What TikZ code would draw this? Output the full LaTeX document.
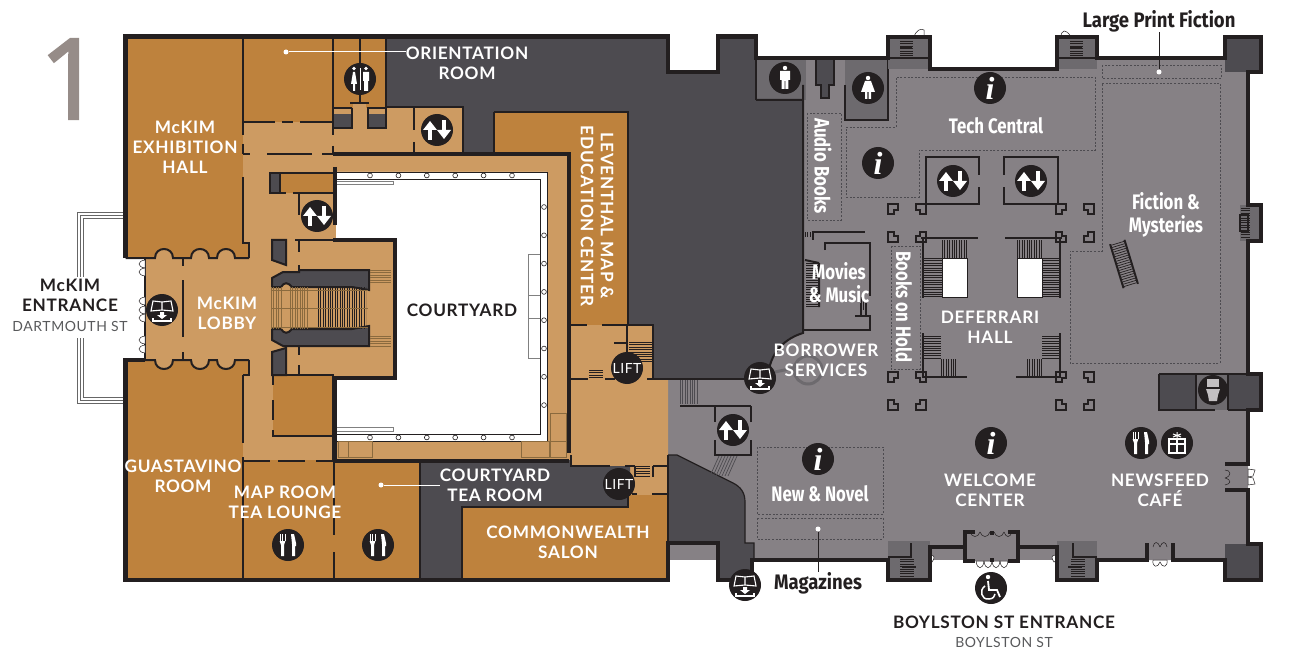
\documentclass[tikz,border=0pt]{standalone}
\usepackage{fontspec}
\setmainfont{Lato}
\newfontfamily\roomfont[LetterSpace=4]{Lato}
\newfontfamily\shelffont[FakeStretch=0.8]{Fira Sans}
\newfontfamily\signfont[FakeStretch=0.88]{Fira Sans}
\newfontfamily\numfont[FakeBold=2]{Open Sans}
\newfontfamily\infofont{Liberation Serif}
\definecolor{wallc}{HTML}{231F20}
\definecolor{brownc}{HTML}{BE823D}
\definecolor{tanc}{HTML}{CD9B62}
\definecolor{darkc}{HTML}{4D4B50}
\definecolor{midc}{HTML}{6D6A6E}
\definecolor{floorc}{HTML}{868185}
\definecolor{numc}{HTML}{968C88}
\definecolor{streetc}{HTML}{58595B}
\definecolor{stepc}{HTML}{8A6A3E}
\tikzset{
  outer/.style={draw=wallc,line width=4.6pt,miter limit=4},
  inner/.style={draw=wallc,line width=2pt},
  fine/.style={draw=wallc,line width=1.2pt},
  zone/.style={draw=darkc,line width=0.6pt,dash pattern=on 2pt off 1.6pt},
  hatch/.style={draw=wallc,dash pattern=on 0.7pt off 1.7pt},
  ghost/.style={draw=black!50,line width=0.7pt},
  door/.style={fill=white,draw=wallc,line width=0.5pt},
  room/.style={text=white,font=\roomfont\fontsize{17.2}{20}\selectfont\bfseries,align=center,inner sep=0pt},
  roomdark/.style={room,text=wallc},
  shelf/.style={text=white,font=\shelffont\fontsize{21}{23}\selectfont\bfseries,align=center,inner sep=0pt},
  shelfdark/.style={shelf,text=wallc,font=\signfont\fontsize{21}{23}\selectfont\bfseries},
  street/.style={text=streetc,font=\roomfont\fontsize{14}{16}\selectfont,inner sep=0pt},
  leader/.style={draw=white,line width=1pt},
  disc/.style={circle,fill=wallc,minimum size=32pt,inner sep=0pt},
  dot/.style={circle,fill=#1,minimum size=5pt,inner sep=0pt},
  pics/updown/.style={code={
    \fill[wallc] (0,0) circle (16);
    \draw[white,line width=3.6pt] (-7,10)--(-7,-3) (7,-10)--(7,3);
    \fill[white] (-14,0)--(-7,-9)--(0,0)--cycle (14,0)--(7,9)--(0,0)--cycle;
  }},
  pics/info/.style={code={
    \node[disc,text=white,font=\infofont\fontsize{32}{32}\selectfont\bfseries\itshape] (#1) at (0,0) {i};
  }},
  pics/fork/.style={code={
    \fill[wallc] (0,0) circle (16);
    \draw[white,line width=0.9pt] (-8,-11)--(-8,-4) (-5.5,-11)--(-5.5,-4) (-3,-11)--(-3,-4);
    \fill[white] (-8.4,-4)--(-2.6,-4)--(-4,0)--(-4,11)--(-7,11)--(-7,0)--cycle;
    \fill[white] (3,-11)--(6,-11)--(8,-2)--(8,1)--(7,1)--(7,11)--(4,11)--(4,-1)--cycle;
  }},
  pics/book/.style={code={
    \fill[wallc] (0,0) circle (16);
    \draw[white,line width=1.1pt,fill=wallc] (0,-8)--(-9,-9)--(-11,1)--(0,0)--(11,1)--(9,-9)--cycle (0,-8)--(0,0);
    \fill[white] (-2,2)--(2,2)--(2,5)--(5,5)--(0,9)--(-5,5)--(-2,5)--cycle;
    \draw[white,line width=1.6pt] (-9,8)--(-9,11)--(9,11)--(9,8);
  }},
  pics/men/.style={code={
    \fill[wallc] (0,0) circle (16);
    \fill[white] (0,-10) circle (2.2);
    \fill[white] (-5,-7)--(5,-7)--(5,2)--(3.4,2)--(3.4,11)--(0.4,11)--(0.4,3)--(-0.4,3)--(-0.4,11)--(-3.4,11)--(-3.4,2)--(-5,2)--cycle;
  }},
  pics/women/.style={code={
    \fill[wallc] (0,0) circle (16);
    \fill[white] (0,-10) circle (2.2);
    \fill[white] (-3,-7)--(3,-7)--(7,4)--(3,4)--(3,11)--(0.6,11)--(0.6,4)--(-0.6,4)--(-0.6,11)--(-3,11)--(-3,4)--(-7,4)--cycle;
  }},
  pics/toilet/.style={code={
    \fill[wallc] (0,0) circle (15);
    \fill[floorc!50!white] (-6,-11)--(6,-11)--(6,-3)--(-6,-3)--cycle;
    \fill[floorc!50!white] (-7,-1)--(7,-1)--(5,5)--(4,11)--(-4,11)--(-5,5)--cycle;
  }},
  pics/gift/.style={code={
    \fill[wallc] (0,0) circle (16);
    \draw[white,line width=1.2pt] (-8,-4) rectangle (8,10) (-8,1)--(8,1) (0,-4)--(0,10);
    \draw[white,line width=1pt] (0,-5)--(0,-11) (-4,-9)--(4,-6) (4,-9)--(-4,-6);
  }},
  pics/chair/.style={code={
    \fill[wallc] (0,0) circle (16);
    \fill[white] (-3,-11) circle (2.2);
    \draw[white,line width=1.8pt] (-3,-7)--(-2,2)--(6,2)--(9,9);
    \draw[white,line width=1.5pt] (-6,-2) .. controls (-12,2) and (-10,12) .. (-2,11) .. controls (2,11) and (4,8) .. (4,6);
  }}
}
\begin{document}
\begin{tikzpicture}[x=1pt,y=-1pt]
\useasboundingbox (0,0) rectangle (1289,660);

% floor
\fill[floorc] (668,379)--(756,58)--(888,58)--(888,37)--(930,37)--(930,69)--(1057,69)--(1057,37)--(1097,37)--(1097,58)--(1261,58)--(1261,72)--(1248,72)--(1248,544)--(1225,560)--(1097,560)--(1057,547)--(1018,547)--(1018,561)--(965,561)--(965,547)--(930,547)--(888,560)--(745,560)--(668,543)--cycle;
\fill[floorc] (1225,464) rectangle (1248,490);
\fill[floorc] (1147,542) rectangle (1173,560);
\fill[floorc] (668,379) rectangle (900,560);
\fill[floorc] (900,69) rectangle (1248,560);

% west wing rooms
\fill[brownc] (125,36) rectangle (386,122);
\fill[brownc] (125,36) rectangle (243,258);
\fill[brownc] (125,360) rectangle (243,580);
\fill[brownc] (243,460) rectangle (420,580);
\fill[tanc] (243,122) rectangle (336,460);
\fill[tanc] (333,108) rectangle (463,154);
\fill[tanc] (353,103) rectangle (366,125);
\fill[brownc] (243,243) rectangle (249,258);
\fill[brownc] (243,360) rectangle (249,375);
\fill[tanc] (145,258)--(155,258) .. controls +(0,-12) and +(0,-12) .. (173,258)--(191,258) .. controls +(0,-12) and +(0,-12) .. (209,258)--(217,258) .. controls +(0,-12) and +(0,-12) .. (235,258)--(250,258)--(250,360)--(235,360) .. controls +(0,12) and +(0,12) .. (217,360)--(209,360) .. controls +(0,12) and +(0,12) .. (191,360)--(173,360) .. controls +(0,12) and +(0,12) .. (155,360)--(145,360)--cycle;
\fill[brownc] (273,376) rectangle (333,436);
\fill[brownc] (280,173) rectangle (333,193);
\fill[darkc] (270,173) rectangle (280,193);

% courtyard and its ring
\fill[tanc] (333,154) rectangle (571,460);
\fill[white] (336,172)--(547,172)--(547,441)--(336,441)--(336,378)--(395,378)--(395,240)--(336,240)--cycle;

% dark rooms
\fill[darkc] (386,38)--(668,38)--(668,72)--(718,72)--(718,38)--(756,38)--(756,100)--(803,100)--(803,333) .. controls (780,340) and (768,358) .. (768,380)--(653,379)--(653,325)--(628,325)--(628,112)--(494,112)--(494,154)--(463,154)--(463,107)--(386,107)--cycle;
\fill[brownc] (494,112)--(628,112)--(628,325)--(571,325)--(571,154)--(494,154)--cycle;
\fill[tanc] (571,325)--(653,325)--(653,379)--(668,379)--(668,495)--(630,495)--(630,466)--(571,466)--cycle;
\fill[darkc] (420,460)--(571,460)--(571,466)--(630,466)--(630,507)--(462,507)--(462,580)--(420,580)--cycle;
\fill[brownc] (462,507)--(628,507)--(628,495)--(668,495)--(668,580)--(462,580)--cycle;
\fill[darkc] (668,455)--(677,455)--(733,483) .. controls (741,487) and (745,493) .. (745,502)--(745,543)--(754,543)--(754,560)--(752,580)--(718,580)--(718,543)--(668,543)--cycle;
\fill[midc] (756,58) rectangle (806,100);
\fill[midc] (845,58) rectangle (888,120);
\fill[floorc] (806,85) rectangle (845,100);
\fill[darkc] (816,60)--(834,60)--(834,85)--(829,85)--(829,98)--(821,98)--(821,85)--(816,85)--cycle;

% small dark boxes
\fill[darkc] (334,114) rectangle (352,128);
\fill[darkc] (368,114) rectangle (386,128);
\fill[darkc] (272,240)--(286,240)--(286,265)--(272,260)--cycle;
\fill[darkc] (272,352)--(286,348)--(286,375)--(272,375)--cycle;
\draw[inner,fill=darkc] (272,278)--(283,272)--(299,272)--(299,270)--(369,270)--(369,290)--(352,287)--(292,287) .. controls (288,282) and (284,282) .. (281,287)--(272,287)--cycle;
\draw[inner,fill=darkc] (272,340)--(283,346)--(299,346)--(299,346)--(369,346)--(369,326)--(352,329)--(292,329) .. controls (288,334) and (284,334) .. (281,329)--(272,329)--cycle;

% lobby stairs
\draw[hatch,draw=stepc,line width=42pt] (271,308)--(281,308);
\draw[hatch,draw=stepc,line width=42pt] (290,308)--(307,308);
\draw[hatch,line width=42pt] (318,308)--(366,308);
\draw[stepc,line width=0.8pt] (271,290)--(368,290) (271,308)--(368,308) (271,327)--(368,327);
\draw[hatch,draw=stepc,line width=21pt] (380,270)--(380,283);
\draw[hatch,draw=stepc,line width=21pt] (380,336)--(380,346);

% colonnade
\draw[wallc,line width=0.8pt] (336,172)--(547,172)--(547,441)--(336,441) (395,179)--(540,179)--(540,434)--(395,434) (336,179)--(395,179) (336,434)--(395,434);
\foreach \x in {370,398.4,...,530} {
  \draw[wallc,line width=0.6pt,fill=white] (\x,175.5) circle (2.4);
  \draw[wallc,line width=0.6pt,fill=white] (\x,437.5) circle (2.4);
}
\foreach \y in {207,235.3,...,410} {
  \draw[wallc,line width=0.6pt,fill=white] (544,\y) circle (2.4);
}
\draw[ghost] (336,181)--(393,181)--(393,184)--(336,184);
\draw[ghost] (336,431)--(393,431)--(393,427)--(336,427);
\draw[ghost] (540,254)--(528,254)--(528,358)--(540,358) (528,295)--(540,295) (528,318)--(540,318);
\draw[stepc,line width=0.8pt] (550,413) rectangle (566,441) (521,441) rectangle (549,457) (550,441) rectangle (566,457) (338,441) rectangle (372,457) (348,441)--(348,457);

% inner walls, west wing
\draw[inner] (243,36)--(243,122) (333,36)--(333,135) (333,146)--(333,154) (360,36)--(360,93);
\draw[inner] (243,122)--(275,122) (282,122)--(293,122) (300,122)--(333,122);
\draw[inner] (350,103)--(369,103) (360,93)--(360,103);
\draw[inner] (334,128)--(352,128)--(352,108) (334,108)--(352,108) (386,36)--(386,128)--(368,128)--(368,108)--(386,108);
\draw[inner] (386,107)--(463,107)--(463,154) (414,108)--(414,130) (414,142)--(414,154);
\draw[inner] (243,122)--(243,135) (243,144)--(243,154) (243,177)--(243,243)--(249,243)--(249,258) (243,375)--(249,375)--(249,360) (243,375)--(243,443) (243,457)--(243,580);
\draw[inner] (243,154)--(250,154) (267,154)--(312,154) (322,154)--(333,154);
\draw[inner] (270,173) rectangle (280,193) (280,173)--(333,173) (280,193)--(286,193) (293,193)--(333,193) (299,193)--(299,215);
\draw[inner] (272,240)--(286,240)--(286,265)--(272,260)--cycle (272,352)--(286,348)--(286,375)--(272,375)--cycle;
\draw[inner] (295,240)--(335,240) (299,240)--(299,252) (299,265)--(299,272) (299,345)--(299,355) (299,365)--(299,375);
\draw[inner] (273,375)--(333,375)--(333,460) (273,376)--(273,385) (273,400)--(273,420) (273,430)--(273,436)--(333,436);
\draw[inner] (243,461)--(270,461) (278,461)--(305,461) (316,461)--(335,461) (334,461)--(334,535) (334,552)--(334,580);
\draw[inner] (145,258)--(145,360);
\draw[inner] (125.5,258)--(155,258) .. controls +(0,-12) and +(0,-12) .. (173,258)--(191,258) .. controls +(0,-12) and +(0,-12) .. (209,258)--(217,258) .. controls +(0,-12) and +(0,-12) .. (235,258)--(249,258);
\draw[inner] (125.5,360)--(155,360) .. controls +(0,12) and +(0,12) .. (173,360)--(191,360) .. controls +(0,12) and +(0,12) .. (209,360)--(217,360) .. controls +(0,12) and +(0,12) .. (235,360)--(249,360);
\draw[inner] (183,258)--(183,266) (183,280)--(183,337) (183,352)--(183,360);
\draw[inner] (420,460)--(420,580);

% lift and stair area, east of courtyard
\draw[outer] (333,154)--(569,154)--(569,453) (335,167)--(335,225) (333,240)--(395,240)--(395,378)--(335,378)--(335,461)--(569,461);
\draw[inner] (494,112)--(628,112)--(628,325) (494,112)--(494,154);
\draw[inner] (571,325)--(587,325) (602,325)--(653,325)--(653,379) (627,325)--(627,355) (614,343)--(627,343);
\draw[inner] (571,379)--(588,379) (605,379)--(615,379) (647,379)--(768,379);
\draw[inner] (571,455)--(571,466)--(610,466) (625,466)--(635,466) (653,466)--(668,466) (653,466)--(653,477) (635,466)--(635,477) (632,494)--(637,494) (652,494)--(668,494);
\draw[inner] (462,580)--(462,507)--(628,507)--(628,494);
\draw[hatch,line width=23pt] (640,342)--(640,362);
\draw[hatch,line width=14pt] (596,370)--(596,379);
\draw[hatch,line width=14pt] (643,466)--(643,477);
\draw[inner] (668,455)--(668,543);
\draw[fine] (668,455)--(677,455)--(733,483) .. controls (741,487) and (745,493) .. (745,502)--(745,543)--(754,543)--(754,560);

% stairs and lift box, gray side
\draw[hatch,draw=darkc,line width=24pt] (680,392)--(698,392);
\draw[inner] (680,406)--(751,406) (715,406)--(715,422) (715,440)--(715,455)--(751,455)--(751,440) (751,422)--(751,406);
\foreach \i in {0,3,...,18} {
  \draw[darkc,line width=0.7pt] (719+\i,456)--(710+\i,476);
}

% north side, gray
\draw[inner] (756,100)--(803,100) (803,85)--(803,333) .. controls (780,340) and (768,358) .. (768,380);
\draw[inner] (756,58)--(756,100) (845,85)--(845,120)--(888,120)--(888,58);
\draw[inner] (816,60)--(816,85)--(821,85)--(821,98)--(829,98)--(829,85)--(834,85)--(834,60);

% movies room
\draw[inner] (813,240)--(813,232)--(865,232) (825,250)--(825,243)--(870,243)--(870,296) (855,316)--(870,316)--(870,330)--(803,330);
\draw[hatch,line width=5pt] (805,235)--(813,235);
\draw[hatch,line width=13pt] (812,263)--(812,307);
\draw[inner] (819,263)--(819,307) (805,260)--(819,263);
\draw[hatch,draw=wallc,line width=13pt,dash pattern=on 0.7pt off 1.7pt] (861,303)--(865,303);
\draw[fine] (861,303)--(861,316) (866,303)--(866,316);
\draw[midc,line width=3pt] (808,370) circle (14) (775,372)--(794,368);

% elevator boxes
\draw[inner] (979,175)--(979,157)--(926,157)--(926,204)--(979,204)--(979,187);
\draw[inner] (1004,175)--(1004,157)--(1058,157)--(1058,204)--(1004,204)--(1004,187);

% columns
\foreach \cx in {907,1075} {
  \foreach \cy in {223,391} {
    \foreach \sx in {1,-1} {
      \foreach \sy in {1,-1} {
        \draw[inner,shift={(\cx-14*\sx,\cy-14*\sy)},xscale=\sx,yscale=\sy] (-5,-5)--(5,-5)--(5,1)--(1,1)--(1,5)--(-5,5)--cycle;
      }
    }
  }
}

% Deferrari stairs
\draw[inner] (921,238)--(978,238) (1005,238)--(1062,238) (923,238)--(923,298) (1060,238)--(1060,298);
\draw[inner] (923,333)--(923,377)--(967,377) (1016,377)--(1060,377)--(1060,333);
\draw[wallc,line width=0.8pt,fill=white] (942,258) rectangle (967,297);
\draw[wallc,line width=0.8pt,fill=white] (1017,258) rectangle (1042,297);
\draw[hatch,line width=19pt] (932,258)--(932,297);
\draw[hatch,line width=19pt] (1051,258)--(1051,297);
\draw[hatch,line width=18pt] (942,249)--(967,249);
\draw[hatch,line width=18pt] (1017,249)--(1042,249);
\draw[hatch,line width=18pt] (932,336)--(932,358);
\draw[hatch,line width=18pt] (1051,336)--(1051,358);
\draw[hatch,line width=19pt] (941,368)--(956,368);
\draw[hatch,line width=19pt] (1027,368)--(1043,368);

% dashed zones
\draw[zone] (807,113) rectangle (841,220);
\draw[zone] (846,127)--(896,127)--(896,77)--(1095,77)--(1095,150)--(919,150)--(919,197)--(846,197)--cycle;
\draw[zone] (1102,65) rectangle (1221,78);
\draw[zone] (1102,83)--(1220,83)--(1220,363)--(1070,363)--(1070,251)--(1102,251)--cycle;
\draw[zone] (891,246) rectangle (920,369);
\draw[zone] (757,447) rectangle (883,514);
\draw[zone] (757,518) rectangle (883,539);

% angled stair, fiction
\begin{scope}[shift={(1124,264)},rotate=17]
  \draw[hatch,line width=13pt] (0,-22)--(0,22);
  \draw[inner] (-7.5,-23)--(-7.5,23) (7.5,-23)--(7.5,23);
\end{scope}

% piers
\fill[midc] (888,37) rectangle (930,69);
\fill[midc] (1057,37) rectangle (1097,69);
\fill[midc] (888,541) rectangle (930,580);
\fill[midc] (1057,541) rectangle (1097,580);
\fill[midc] (1240,205) rectangle (1261,241);
\fill[darkc] (1225,37) rectangle (1261,72);
\fill[darkc] (1225,544) rectangle (1261,580);
\fill[darkc] (1159,374) rectangle (1196,410);
\fill[midc] (1196,374) rectangle (1228,410);
\fill[darkc] (1228,374) rectangle (1261,410);
\draw[hatch,line width=13pt] (906,41)--(906,58);
\draw[hatch,line width=13pt] (1076,41)--(1076,58);
\draw[hatch,line width=14pt] (907,559)--(907,578);
\draw[hatch,line width=14pt] (1078,559)--(1078,578);
\draw[hatch,line width=9pt] (1245,208)--(1245,238);
\draw[inner] (888,58)--(930,58) (1057,58)--(1097,58) (900,48)--(912,48) (1070,48)--(1082,48);
\draw[inner] (888,557)--(911,557)--(911,543) (1097,557)--(1073,557)--(1073,543) (902,567)--(916,567) (1068,567)--(1082,567);
\draw[inner] (1240,215) rectangle (1248,231);
\draw[inner] (1159,374)--(1159,410)--(1215,410) (1228,410)--(1248,410) (1159,374)--(1248,374) (1196,374)--(1196,410) (1228,374)--(1228,410);

% doors
\foreach \y in {264,272,301,310,318,340,349} {
  \draw[door] (145,\y-4) .. controls (137,\y-3) and (137,\y+3) .. (145,\y+4)--cycle;
}
\draw[door] (914,37) .. controls (916,30) and (921,28) .. (924,30)--(924,37)--cycle;
\draw[door] (1061,37) .. controls (1061,30) and (1066,28) .. (1071,37)--cycle;
\draw[door] (930,555) .. controls (935,555) and (935,558) .. (932,562)--(930,561)--cycle;
\draw[door] (1056,555) .. controls (1051,555) and (1051,558) .. (1054,562)--(1056,561)--cycle;
\foreach \x in {980,988,996,1004} {
  \draw[door] (\x-4,561) .. controls (\x-3,570) and (\x+3,570) .. (\x+4,561)--cycle;
}
\draw[door] (1153,560) .. controls (1152,568) and (1158,568) .. (1160,562) .. controls (1162,568) and (1168,568) .. (1167,560)--cycle;
\draw[door] (1248,469)--(1255,470)--(1253,476)--(1248,477)--cycle;
\draw[door] (1248,477)--(1253,478)--(1255,484)--(1248,485)--cycle;
\draw[fine,line width=0.5pt] (970,532) .. controls (972,538) and (978,538) .. (980,532) (980,532) .. controls (982,538) and (988,538) .. (990,532) (994,532) .. controls (996,538) and (1002,538) .. (1004,532) (1004,532) .. controls (1006,538) and (1010,538) .. (1012,532);
\draw[fine,line width=0.5pt] (1153,547) .. controls (1154,541) and (1158,541) .. (1160,547) (1160,547) .. controls (1162,541) and (1166,541) .. (1167,547);
\draw[fine,line width=0.5pt] (1225,470) .. controls (1231,470) and (1232,476) .. (1225,478) (1225,478) .. controls (1232,480) and (1231,484) .. (1225,485);

% outer walls
\draw[outer] (125.5,258)--(125.5,36.5)--(668,36.5)--(668,72)--(718,72)--(718,36.5)--(756,36.5)--(756,58)--(888,58)--(888,37)--(930,37)--(930,69)--(1057,69)--(1057,37)--(1097,37)--(1097,58)--(1225,58)--(1225,37)--(1261,37)--(1261,72)--(1248,72)--(1248,205)--(1261,205)--(1261,241)--(1248,241)--(1248,374)--(1261,374)--(1261,410)--(1248,410)--(1248,464)--(1225,464);
\draw[outer] (1225,490)--(1248,490)--(1248,544)--(1261,544)--(1261,580)--(1225,580)--(1225,560)--(1173,560)--(1173,543);
\draw[outer] (1147,543)--(1147,560)--(1097,560)--(1097,580)--(1057,580)--(1057,547)--(1018,547);
\draw[outer] (975,532)--(965,532)--(965,561)--(975,561) (1008,532)--(1018,532)--(1018,561)--(1008,561) (992,531)--(992,535) (992,558)--(992,562);
\draw[outer] (965,547)--(930,547)--(930,580)--(888,580)--(888,560)--(752,560)--(752,580)--(718,580)--(718,543)--(668,543)--(668,580)--(125.5,580)--(125.5,360)--(145,360);

% entrance lines
\foreach \i in {0,3,6} {
  \draw[draw=black!60,line width=0.7pt] (123,212+\i)--(77+\i,212+\i)--(77+\i,277);
  \draw[draw=black!60,line width=0.7pt] (123,403-\i)--(77+\i,403-\i)--(77+\i,338);
}

% icons
\fill[wallc] (360,79) circle (16);
\fill[white] (354,68.5) circle (1.8) (366,68.5) circle (1.8);
\fill[white] (351,84)--(353,72)--(355,72)--(357,84)--(355,84)--(355,91)--(353,91)--(353,84)--cycle;
\fill[white] (363,72)--(369,72)--(369,81)--(368,81)--(368,91)--(364,91)--(364,81)--(363,81)--cycle;
\draw[white,line width=0.8pt] (360,68)--(360,90);
\pic at (437,130) {updown};
\pic at (317,216) {updown};
\pic at (733,430) {updown};
\pic at (953,181) {updown};
\pic at (1031,181) {updown};
\pic at (162,310) {book};
\pic at (760,378) {book};
\pic at (745,585) {book};
\pic at (785,78) {men};
\pic at (868,88) {women};
\pic at (288,545) {fork};
\pic at (378,545) {fork};
\pic at (1141,443) {fork};
\pic at (1177,443) {gift};
\pic at (1213,390) {toilet};
\pic at (991,588) {chair};
\pic at (990,88) {info=infotech};
\pic at (878,163) {info=infodesk};
\pic at (818,459) {info=infonovel};
\pic at (991,443) {info=infowelcome};
\node[disc,text=white,font=\roomfont\fontsize{14}{14}\selectfont] (liftup) at (627,368) {LIFT};
\node[disc,text=white,font=\roomfont\fontsize{14}{14}\selectfont] (liftlow) at (619,484) {LIFT};

% labels
\node[text=numc,font=\numfont\fontsize{112}{112}\selectfont,inner sep=0pt] (floornum) at (71,79) {1};
\node[room] (exhibit) at (185,147) {McKIM\\EXHIBITION\\HALL};
\node[room] (orient) at (467,63.5) {ORIENTATION\\ROOM};
\node[room] (lobby) at (227,313.5) {McKIM\\LOBBY};
\node[room] (guast) at (183,476) {GUASTAVINO\\ROOM};
\node[room] (maproom) at (285,502) {MAP ROOM\\TEA LOUNGE};
\node[room] (tearoom) at (495,485) {COURTYARD\\TEA ROOM};
\node[room] (salon) at (568,542) {COMMONWEALTH\\SALON};
\node[room,rotate=-90] (leventhal) at (597,216) {LEVENTHAL MAP \&\\EDUCATION CENTER};
\node[roomdark] (courtyard) at (462,310) {COURTYARD};
\node[roomdark] (mckim) at (70,295) {McKIM\\ENTRANCE};
\node[street] (dartmouth) at (70,326) {DARTMOUTH ST};
\node[room] (borrower) at (826,360) {BORROWER\\SERVICES};
\node[room] (deferrari) at (990,327) {DEFERRARI\\HALL};
\node[room] (welcome) at (990,490) {WELCOME\\CENTER};
\node[room] (newsfeed) at (1160,490) {NEWSFEED\\CAFÉ};
\node[roomdark] (boylston) at (1004,622) {BOYLSTON ST ENTRANCE};
\node[street] (boylstonst) at (1004,642) {BOYLSTON ST};
\node[shelf] (tech) at (996,126) {Tech Central};
\node[shelf] (fiction) at (1166,215) {Fiction \&\\Mysteries};
\node[shelf] (movies) at (839,283) {Movies\\\& Music};
\node[shelf] (novel) at (820,494) {New \& Novel};
\node[shelf,rotate=-90] (audio) at (823,166) {Audio Books};
\node[shelf,rotate=-90] (hold) at (904,307) {Books on Hold};
\node[shelfdark] (largeprint) at (1159,21) {Large Print Fiction};
\node[shelfdark] (magazines) at (818,583) {Magazines};

% leaders
\node[dot=white] (orientdot) at (286,52) {};
\node[dot=white] (teadot) at (381,485) {};
\node[dot=white] (magdot) at (818,529) {};
\node[dot=white] (printdot) at (1159,72) {};
\draw[leader] (orientdot) -- (orient.west |- orientdot);
\draw[leader] (teadot) -- (tearoom.west |- teadot);
\draw[leader,draw=wallc] (magdot) -- (magazines.north);
\draw[leader,draw=wallc] (printdot) -- (largeprint.south);

\end{tikzpicture}
\end{document}
